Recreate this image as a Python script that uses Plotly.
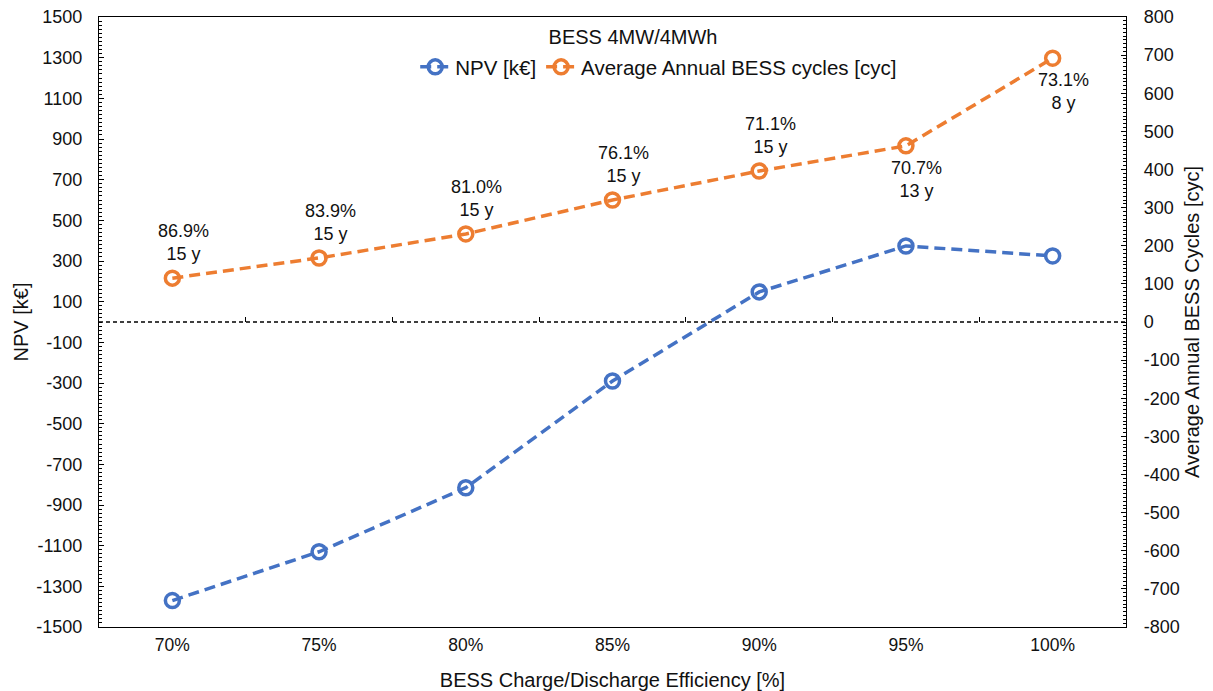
import plotly.graph_objects as go

categories = ["70%", "75%", "80%", "85%", "90%", "95%", "100%"]
npv = [-1370, -1130, -815, -290, 148, 374, 325]
cycles = [115, 168, 231, 320, 396, 462, 692]
labels = ["86.9%<br>15 y", "83.9%<br>15 y", "81.0%<br>15 y", "76.1%<br>15 y",
          "71.1%<br>15 y", "70.7%<br>13 y", "73.1%<br>8 y"]
label_above = [True, True, True, True, True, False, False]
left_ticks = list(range(-1500, 1501, 200))
right_ticks = list(range(-800, 801, 100))
boundary_ticks = [0.5, 1.5, 2.5, 3.5, 4.5, 5.5]

BLUE = "#4472C4"
ORANGE = "#ED7D31"
FONT = "Liberation Sans, Arial, sans-serif"

xidx = list(range(len(categories)))

fig = go.Figure()
fig.add_trace(go.Scatter(
    x=xidx, y=npv, name="NPV [k€]", mode="lines+markers",
    line=dict(color=BLUE, width=3.5, dash="11px,6px"),
    marker=dict(symbol="circle-open", size=14, color=BLUE, line=dict(width=3.5, color=BLUE)),
    yaxis="y", xaxis="x",
))
fig.add_trace(go.Scatter(
    x=xidx, y=cycles, name="Average Annual BESS cycles [cyc]", mode="lines+markers",
    line=dict(color=ORANGE, width=3.5, dash="11px,6px"),
    marker=dict(symbol="circle-open", size=14, color=ORANGE, line=dict(width=3.5, color=ORANGE)),
    yaxis="y2", xaxis="x",
))

for i, (lab, above) in enumerate(zip(labels, label_above)):
    fig.add_annotation(
        x=xidx[i], y=cycles[i], xref="x", yref="y2", text=lab, showarrow=False,
        xanchor="center", yanchor="bottom" if above else "top",
        xshift=11, yshift=12 if above else -10,
        font=dict(size=18, color="#111", family=FONT), align="center",
    )

fig.add_shape(type="line", xref="paper", x0=0, x1=1, yref="y", y0=0, y1=0,
              line=dict(color="black", width=1.3, dash="4px,3px"), layer="below")

fig.update_layout(
    width=1213, height=691,
    margin=dict(l=99, r=87, t=17, b=64),
    paper_bgcolor="white", plot_bgcolor="white",
    font=dict(family=FONT, size=18, color="#111"),
    title=dict(text="BESS 4MW/4MWh", x=0.52, xref="paper", xanchor="center",
               y=1 - 37 / 691, yanchor="middle", font=dict(size=20, color="#111")),
    legend=dict(orientation="h", x=0.545, xanchor="center", y=0.918, yanchor="middle",
                font=dict(size=20.5), bgcolor="rgba(0,0,0,0)", itemwidth=30,
                tracegroupgap=0),
    showlegend=True,
    xaxis=dict(
        tickmode="array", tickvals=xidx, ticktext=categories, range=[-0.5, 6.5],
        showline=True, linecolor="black", linewidth=1.3, mirror=True,
        showgrid=False, zeroline=False, ticks="", automargin=False,
        tickfont=dict(size=17.5), ticklabelstandoff=2,
        title=dict(text="BESS Charge/Discharge Efficiency [%]", font=dict(size=20), standoff=22),
    ),
    xaxis2=dict(
        overlaying="x", anchor="free", position=0.5, range=[-0.5, 6.5],
        tickmode="array", tickvals=boundary_ticks, ticks="inside", ticklen=5,
        tickcolor="black", showticklabels=False, showline=False, showgrid=False,
        zeroline=False, automargin=False,
    ),
    yaxis=dict(
        range=[-1500, 1500], tickmode="array", tickvals=left_ticks,
        ticktext=[str(v) for v in left_ticks],
        showline=True, linecolor="black", linewidth=1.3, showgrid=False, zeroline=False,
        ticks="inside", ticklen=5, tickcolor="black", automargin=False,
        minor=dict(ticks="inside", ticklen=3, dtick=20, tick0=0, tickcolor="black", showgrid=False),
        tickfont=dict(size=18), ticklabelstandoff=12,
        title=dict(text="NPV [k€]", font=dict(size=20), standoff=2),
    ),
    yaxis2=dict(
        range=[-800, 800], tickmode="array", tickvals=right_ticks,
        ticktext=[str(v) for v in right_ticks], overlaying="y", side="right",
        showline=True, linecolor="black", linewidth=1.3, showgrid=False, zeroline=False,
        ticks="inside", ticklen=5, tickcolor="black", automargin=False,
        minor=dict(ticks="inside", ticklen=3, dtick=10, tick0=0, tickcolor="black", showgrid=False),
        tickfont=dict(size=18), ticklabelstandoff=13,
        title=dict(text="Average Annual BESS Cycles [cyc]", font=dict(size=20), standoff=6),
    ),
)

# invisible helper trace so the secondary x axis (tick marks on the zero line) renders
fig.add_trace(go.Scatter(x=[0], y=[0], xaxis="x2", yaxis="y", mode="markers",
                         marker=dict(opacity=0), showlegend=False, hoverinfo="skip"))

fig.write_html("out.html", config={"displayModeBar": False},
               post_script="document.body.style.margin='0px';document.body.style.padding='0px';")
